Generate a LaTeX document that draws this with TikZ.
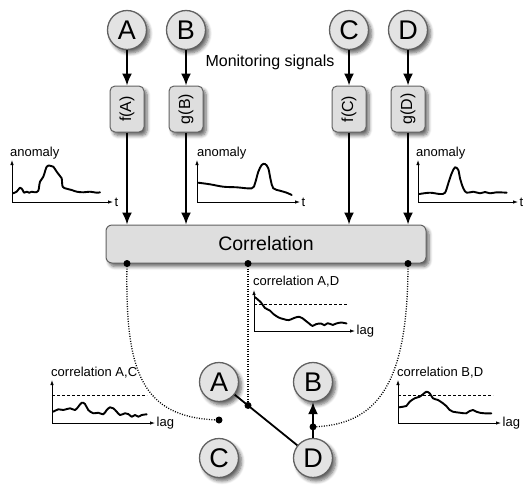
\documentclass[tikz,border=0pt]{standalone}
\usepackage{fontspec}
\setmainfont{Liberation Sans}
\usetikzlibrary{arrows.meta,shadows.blur,calc}

\tikzset{
  softshadow/.style={blur shadow={shadow xshift=3pt, shadow yshift=-3.5pt,
      shadow blur steps=6, shadow blur radius=3.5pt, shadow opacity=60}},
  sig/.style={circle, draw=black!62, line width=1.3pt, fill=black!11,
      minimum size=39pt, inner sep=0pt, softshadow,
      font=\fontsize{27}{30}\selectfont},
  fnbox/.style={rectangle, rounded corners=5pt, draw=black!62, line width=1pt,
      fill=black!13, minimum width=34pt, minimum height=46pt, inner sep=0pt,
      softshadow, font=\fontsize{16}{18}\selectfont},
  corrbox/.style={rectangle, rounded corners=6pt, draw=black!62, line width=1pt,
      fill=black!13, minimum width=320pt, minimum height=38pt, inner sep=0pt,
      softshadow, font=\fontsize{19.5}{22}\selectfont},
  flow/.style={line width=1.8pt, -{Latex[length=12pt,width=10pt]}},
  link/.style={line width=1.8pt},
  dotlink/.style={line width=1.3pt, dash pattern=on 1pt off 1.5pt},
  pdot/.style={circle, fill=black, inner sep=0pt, minimum size=7pt},
  axes/.style={line width=0.8pt, {Latex[length=5pt,width=3.5pt]}-{Latex[length=5pt,width=3.5pt]}},
  trace/.style={line width=1.9pt, line join=round, line cap=round},
  level/.style={line width=0.9pt, dash pattern=on 3pt off 2pt},
  small/.style={font=\fontsize{13}{15}\selectfont, inner sep=0pt},
}

\begin{document}
\begin{tikzpicture}[x=1pt, y=-1pt]
\useasboundingbox (0,0) rectangle (526,488);

% monitored signals
\node[sig] (sA) at (127,30) {A};
\node[sig] (sB) at (186,30) {B};
\node[sig] (sC) at (349,30) {C};
\node[sig] (sD) at (408,30) {D};
\node[font=\fontsize{16}{18}\selectfont] (mon) at (270,62) {Monitoring signals};

% transforms
\node[fnbox] (fA) at (127,109) {\rotatebox{90}{f(A)}};
\node[fnbox] (gB) at (186,109) {\rotatebox{90}{g(B)}};
\node[fnbox] (fC) at (349,109) {\rotatebox{90}{f(C)}};
\node[fnbox] (gD) at (408,109) {\rotatebox{90}{g(D)}};

% correlation stage
\node[corrbox] (corr) at (266,244) {Correlation};

\foreach \s/\f in {sA/fA, sB/gB, sC/fC, sD/gD} {
  \draw[flow] (\s) -- (\f);
  \draw[flow] (\f) -- (\f |- corr.north);
}

% anomaly plots
\begin{scope}[shift={(12,202)}, yscale=-1]
  \draw[axes] (0,42) -- (0,0) -- (101,0);
  \node[small, anchor=west] at (102.5,0) {t};
  \node[small, anchor=base west] at (-2,46) {anomaly};
  \draw[trace] plot[smooth, tension=0.55] coordinates {(1,8.7) (4.7,10.3) (8,14.3) (10.7,12) (12,9.3)
    (14.7,10.3) (17.3,9.3) (19.7,10.3) (23,9.7) (26.3,11.3) (28,20.3) (31.3,25.3) (34.7,35.3)
    (38,36.3) (41.3,35.3) (44.7,30.3) (48,26) (49.7,23.7) (50.7,15.3) (54.7,13.3) (59.7,12)
    (64.7,10.3) (71.3,9.7) (78,10.3) (84.7,9.3) (88,9.7)};
\end{scope}

\begin{scope}[shift={(197,202)}, yscale=-1]
  \draw[axes] (0,42) -- (0,0) -- (103,0);
  \node[small, anchor=west] at (104.5,0) {t};
  \node[small, anchor=base west] at (0,46) {anomaly};
  \draw[trace] plot[smooth, tension=0.55] coordinates {(1.3,19.3) (13,17.7) (26.3,15.3) (39.7,14.7)
    (54.7,13.7) (58,18.7) (61.3,30.3) (64.7,37) (68,38) (71.3,33.7) (73.7,22) (76.3,13.7)
    (83,11.3) (89.7,9.3) (94.7,7)};
\end{scope}

\begin{scope}[shift={(418,202)}, yscale=-1]
  \draw[axes] (0,42) -- (0,0) -- (100,0);
  \node[small, anchor=west] at (101.5,0) {t};
  \node[small, anchor=base west] at (-2,46) {anomaly};
  \draw[trace] plot[smooth, tension=0.55] coordinates {(1.3,8) (12,9.3) (22,8) (27,9.3) (30.3,18.7)
    (33.7,28.7) (37,34.7) (40.3,32) (42,23.7) (45.3,13.7) (48.7,9.3) (55.3,10.3) (62,8.7)
    (67,10) (72,8.7) (78.7,9.7) (88.7,9.3)};
\end{scope}

% correlation graph between signals
\node[sig] (nA) at (219,382) {A};
\node[sig] (nB) at (313,382) {B};
\node[sig] (nC) at (219,458) {C};
\node[sig] (nD) at (313,458) {D};

\draw[link] (nA) -- (nD);
\draw[flow] (nD) -- (nB);

\coordinate (adDot) at ($(nA)!0.3085!(nD)$);
\coordinate (acDot) at ($(nA)!0.5!(nC)$);
\coordinate (bdDot) at ($(nD)!0.41!(nB)$);
\coordinate (lDot) at (sA |- corr.south);
\coordinate (mDot) at (248,0 |- corr.south);
\coordinate (rDot) at (sD |- corr.south);

\draw[dotlink] (lDot) .. controls (125,370) and (140,418) .. (acDot);
\draw[dotlink] (mDot) -- (mDot |- adDot);
\draw[dotlink] (rDot) .. controls (408,380) and (380,425) .. (bdDot);

\foreach \p in {lDot, mDot, rDot, adDot, acDot, bdDot}
  \node[pdot] at (\p) {};

% lag correlation plots
\begin{scope}[shift={(254,331)}, yscale=-1]
  \draw[axes] (0,41) -- (0,0) -- (101,0);
  \node[small, anchor=west] at (102.5,0) {lag};
  \node[small, anchor=base west] at (-1,46) {correlation A,D};
  \draw[level] (0,26.5) -- (94,26.5);
  \draw[trace] plot[smooth, tension=0.55] coordinates {(0.7,34) (4,31.3) (7.5,27.9) (10.9,23.1)
    (16,20.4) (19.4,17) (24.5,13.6) (29.6,11.9) (34.7,10.9) (39.8,12.9) (44.9,14.3) (48.3,12.9)
    (51.7,10.2) (55.1,7.5) (58.5,5.1) (61.9,6.8) (67,7.5) (70.4,5.8) (73.8,7.8) (78.9,6.1)
    (82.3,7.5) (87.4,8.5) (92.5,7.5)};
\end{scope}

\begin{scope}[shift={(52,423)}, yscale=-1]
  \draw[axes] (0,43) -- (0,0) -- (103,0);
  \node[small, anchor=west] at (104.5,0) {lag};
  \node[small, anchor=base west] at (-1,47) {correlation A,C};
  \draw[level] (0,28) -- (95,28);
  \draw[trace] plot[smooth, tension=0.55] coordinates {(1.3,11.3) (6.3,13.7) (11.3,13) (18,14.7)
    (23,13) (26.3,16.3) (29.7,20.3) (33,19) (36.3,13) (41.3,9.7) (46.3,10.3) (51.3,8.7)
    (54.7,13) (58,15.7) (61.3,14.7) (64.7,11.3) (68,8) (73,9.7) (76.3,9) (79.7,6.3) (83,8)
    (86.3,6.3) (89.7,8) (94.7,8.7)};
\end{scope}

\begin{scope}[shift={(398,423)}, yscale=-1]
  \draw[axes] (0,43) -- (0,0) -- (103,0);
  \node[small, anchor=west] at (104.5,0) {lag};
  \node[small, anchor=base west] at (-1,47) {correlation B,D};
  \draw[level] (0,28) -- (95,28);
  \draw[trace] plot[smooth, tension=0.55] coordinates {(1,15.7) (5,16.3) (8.3,17) (11.7,21.3)
    (16.7,24.7) (21.7,26.3) (25,28.7) (28.3,31.3) (31.7,29.7) (35,24.7) (40,23) (45,19.7)
    (48.3,17) (51.7,13) (55,11.3) (61.7,10.3) (68.3,9.7) (71.7,12) (75,13) (78.3,11.3)
    (81.7,10.3) (86.7,9.7) (93.3,9.7)};
\end{scope}
\end{tikzpicture}
\end{document}
